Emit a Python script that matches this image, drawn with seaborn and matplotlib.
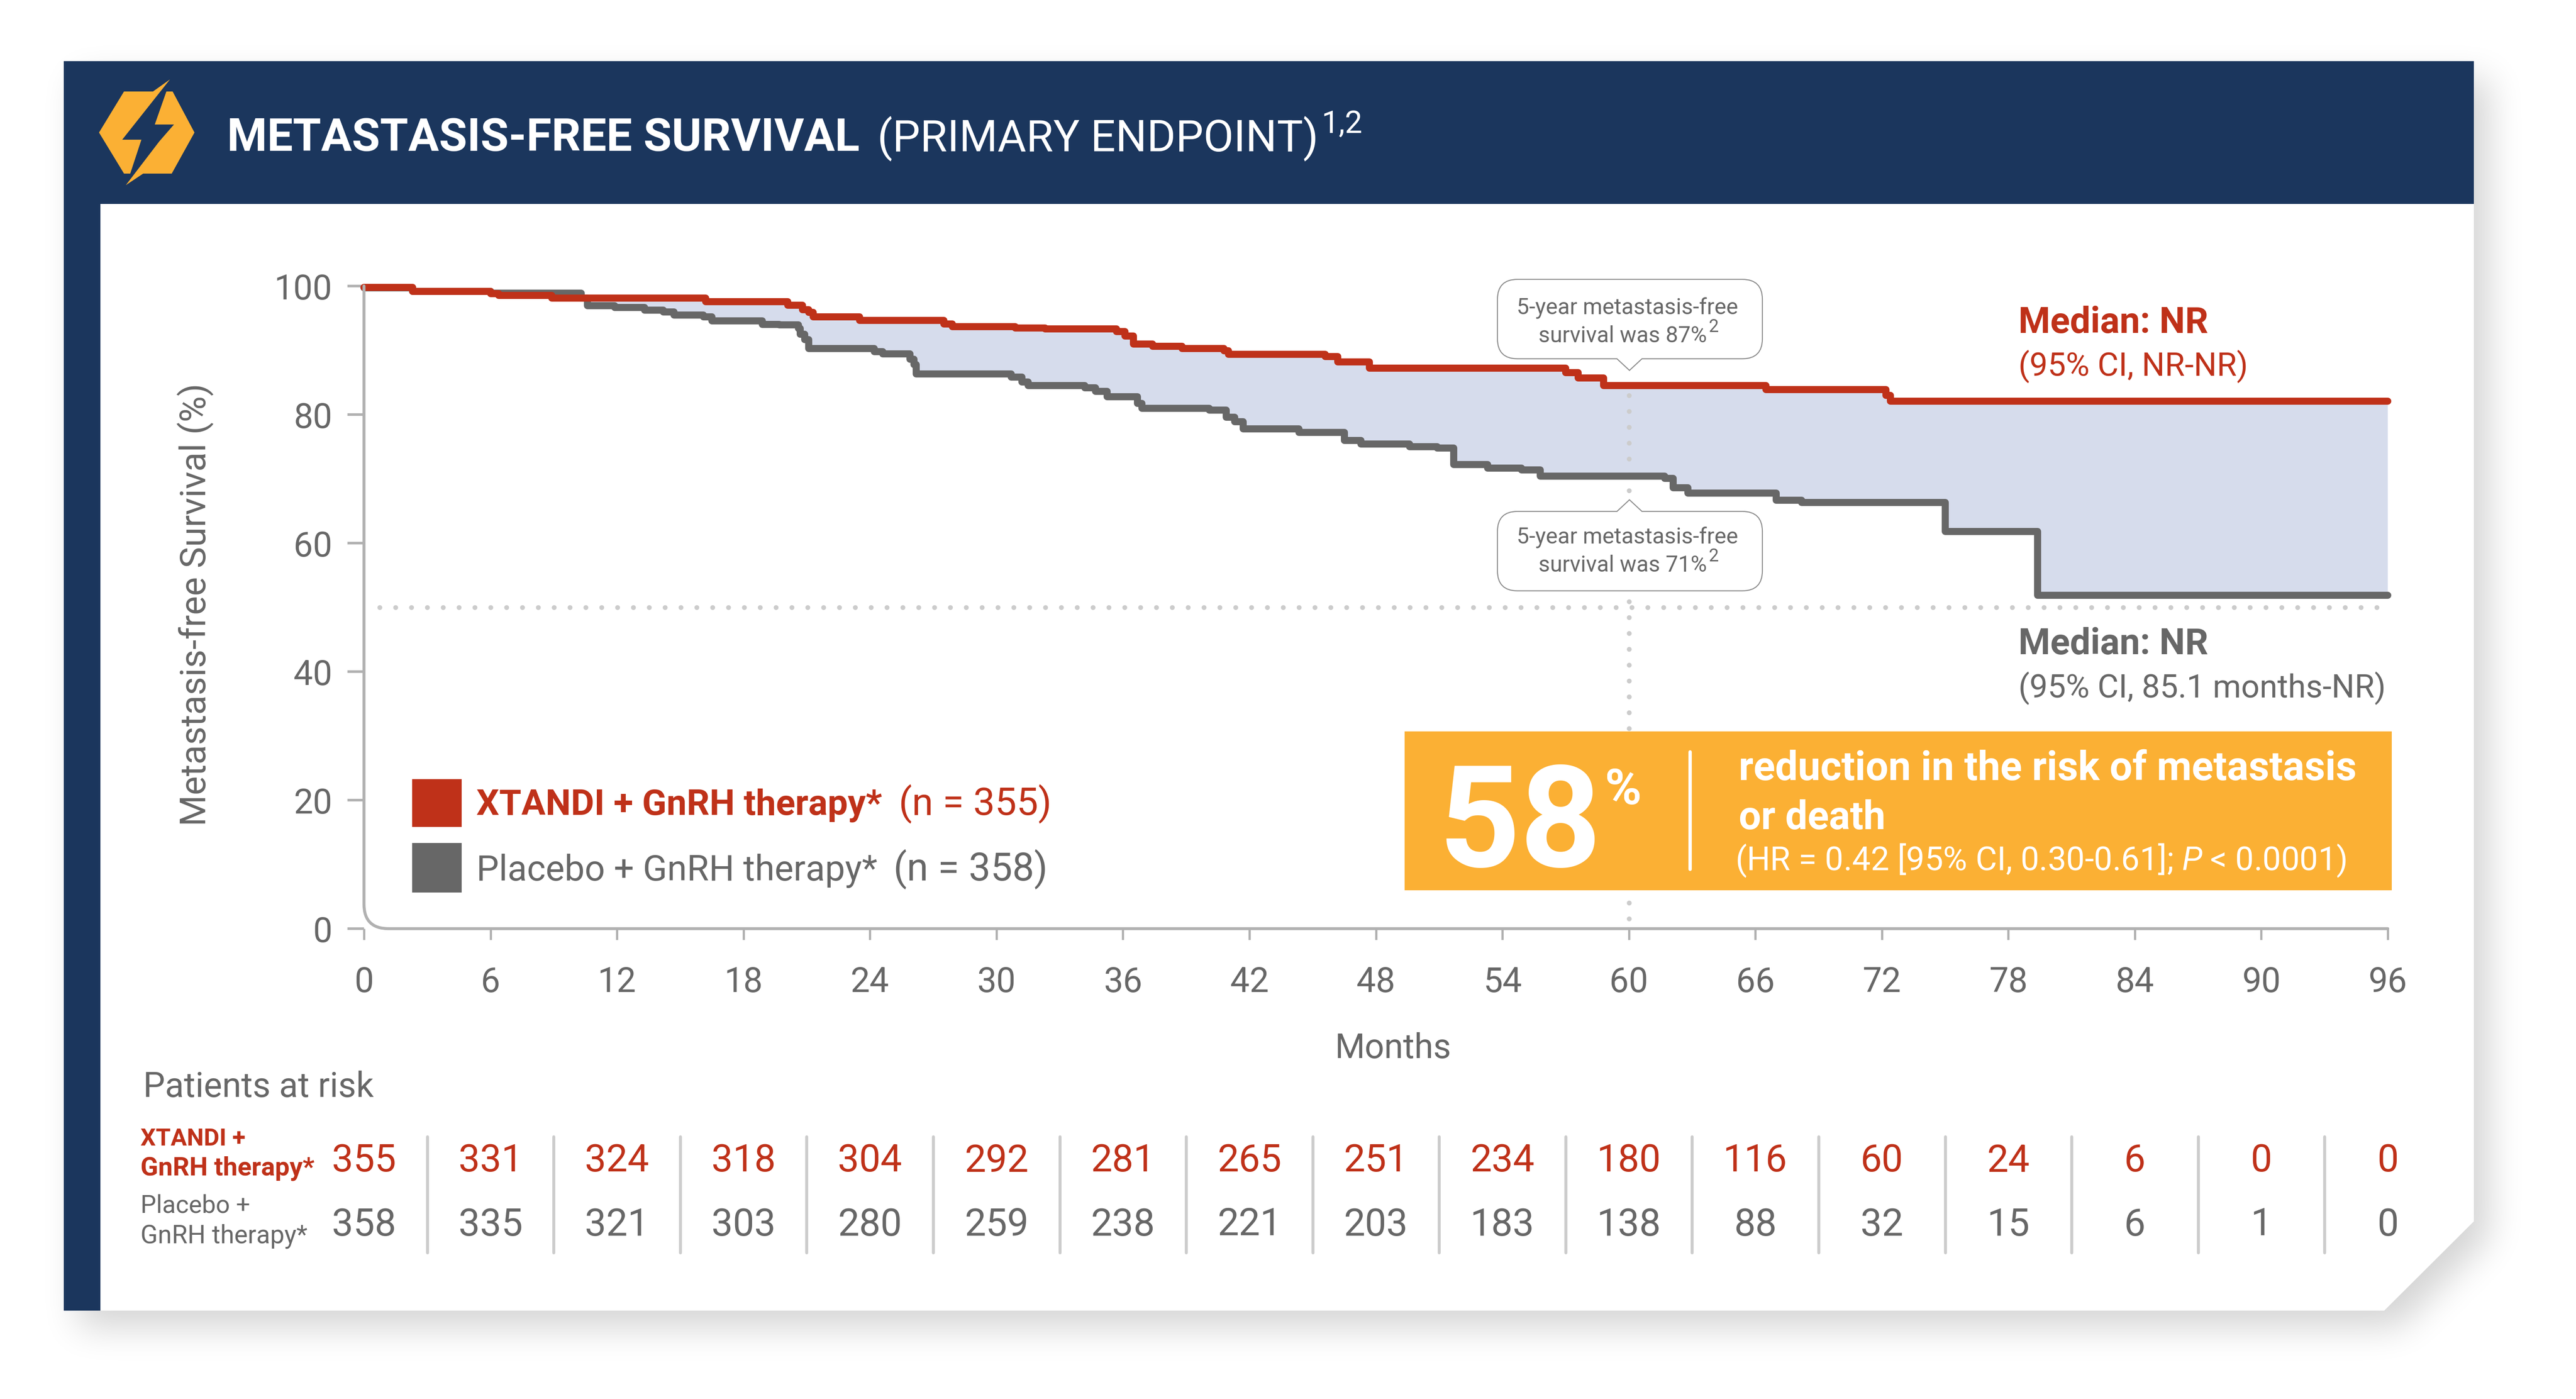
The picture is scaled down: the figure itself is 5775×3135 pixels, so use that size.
import numpy as np
import pandas as pd
import matplotlib
matplotlib.use('Agg')
import matplotlib.pyplot as plt
import seaborn as sns
from matplotlib.patches import Polygon, Rectangle, PathPatch
from matplotlib.path import Path
from matplotlib.transforms import blended_transform_factory

# survival curves: value[i] holds from months[i] up to months[i + 1]
xtandi_months = [0, 2.3, 6.0, 6.4, 8.9, 16.2, 20.1, 20.8, 21.1, 21.3, 23.5, 27.5, 27.9, 30.9, 32.3, 35.7,
                 36.1, 36.5, 37.4, 38.8, 40.8, 41.0, 45.6, 46.2, 47.7, 57.0, 57.6, 58.8, 66.5, 72.2, 72.4, 96]
xtandi_surv = [99.8, 99.15, 98.8, 98.55, 98.1, 97.56, 97.03, 96.35, 95.9, 95.2, 94.66, 94.1, 93.7, 93.5, 93.3, 92.9,
               92.2, 91.0, 90.6, 90.3, 89.9, 89.4, 89.0, 88.2, 87.2, 86.5, 85.7, 84.5, 83.9, 83.0, 82.06, 82.06]
placebo_months = [0, 2.3, 6.0, 10.3, 10.6, 11.9, 13.3, 14.2, 14.7, 16.1, 16.5, 18.9, 19.7, 20.6, 20.7, 20.9, 21.1,
                  24.2, 24.6, 25.9, 26.1, 26.2, 30.7, 31.2, 31.5, 34.2, 34.7, 35.25, 36.7, 36.9, 40.1, 40.9, 41.3,
                  41.7, 44.35, 46.5, 47.3, 49.6, 50.9, 51.7, 53.3, 54.9, 55.8, 61.7, 62.1, 62.8, 67.0, 68.2, 75.0,
                  79.4, 96]
placebo_surv = [99.7, 99.2, 98.9, 98.1, 96.96, 96.7, 96.25, 96.0, 95.5, 95.2, 94.6, 94.05, 93.95, 93.4, 92.5, 91.65,
                90.3, 89.8, 89.45, 88.6, 87.75, 86.35, 85.8, 85.1, 84.5, 84.15, 83.6, 82.8, 81.75, 81.0, 80.7, 79.6,
                78.9, 77.8, 77.25, 76.0, 75.4, 75.0, 74.8, 72.2, 71.7, 71.4, 70.4, 70.1, 68.6, 67.8, 66.7, 66.3,
                61.8, 51.9, 51.9]

x_ticks = list(range(0, 97, 6))
y_ticks = [0, 20, 40, 60, 80, 100]
risk_xtandi = [355, 331, 324, 318, 304, 292, 281, 265, 251, 234, 180, 116, 60, 24, 6, 0, 0]
risk_placebo = [358, 335, 321, 303, 280, 259, 238, 221, 203, 183, 138, 88, 32, 15, 6, 1, 0]
median_line = 50
five_years = 60

RED = '#bf3119'
GREY = '#676767'
NAVY = '#1b365d'
ORANGE = '#fbb034'
AXIS = '#b1b1b1'
DOTS = '#cccccc'
FILL = '#d6dcec'
W, H = 5775, 3135

sns.set_theme(style='white')
plt.rcParams['font.family'] = ['Roboto', 'Liberation Sans', 'DejaVu Sans']
plt.rcParams['mathtext.fontset'] = 'custom'
plt.rcParams['mathtext.rm'] = 'Roboto'
plt.rcParams['mathtext.it'] = 'Roboto:italic'


def soft_shadow():
    # blurred copy of the card outline, at 1/5 resolution
    yy, xx = np.mgrid[0:H // 5, 0:W // 5] * 5
    xx, yy = xx - 30, yy - 35
    mask = (xx > 143) & (xx < 5546) & (yy > 137) & (yy < 2937) & ((xx - 5345) / 201 + (yy - 2737) / 200 < 1)
    mask = mask.astype(float)
    box = np.ones(15) / 15
    for _ in range(3):
        mask = np.apply_along_axis(lambda r: np.convolve(r, box, mode='same'), 0, mask)
        mask = np.apply_along_axis(lambda r: np.convolve(r, box, mode='same'), 1, mask)
    rgba = np.zeros(mask.shape + (4,))
    rgba[..., 3] = mask * 0.17
    return rgba


def bubble(ax, x0, y0, x1, y1, tip_y, r=45):
    # rounded callout box, pointer at the middle of the top or bottom edge
    cx = 3653
    verts = [(x0 + r, y0)]
    codes = [Path.MOVETO]
    if tip_y < y0:
        verts += [(cx - 28, y0), (cx, tip_y), (cx + 28, y0)]
        codes += [Path.LINETO] * 3
    verts += [(x1 - r, y0), (x1, y0), (x1, y0 + r), (x1, y1 - r), (x1, y1), (x1 - r, y1)]
    codes += [Path.LINETO, Path.CURVE3, Path.CURVE3, Path.LINETO, Path.CURVE3, Path.CURVE3]
    if tip_y > y1:
        verts += [(cx + 28, y1), (cx, tip_y), (cx - 28, y1)]
        codes += [Path.LINETO] * 3
    verts += [(x0 + r, y1), (x0, y1), (x0, y1 - r), (x0, y0 + r), (x0, y0), (x0 + r, y0)]
    codes += [Path.LINETO, Path.CURVE3, Path.CURVE3, Path.LINETO, Path.CURVE3, Path.CURVE3]
    ax.add_patch(PathPatch(Path(verts, codes), fc='white', ec='#8c8c8c', lw=0.55))


def fit_text(ax, x, y, s, length, **kwargs):
    # no condensed face is installed, so scale each string to the length it has in the reference
    t = ax.text(x, y, s, fontsize=20, **kwargs)
    box = t.get_window_extent(ax.figure.canvas.get_renderer())
    t.set_fontsize(20 * length / max(box.width, box.height))
    return t


def main():
    fig = plt.figure(figsize=(W / 300, H / 300), dpi=300, facecolor='white')

    # card background, pixel coordinates
    bg = fig.add_axes([0, 0, 1, 1], zorder=0)
    bg.imshow(soft_shadow(), extent=(0, W, H, 0), aspect='auto', interpolation='bilinear')
    card = [(143, 137), (5546, 137), (5546, 2737), (5345, 2937), (143, 2937)]
    bg.add_patch(Polygon(card, fc='white', ec='none'))
    bg.add_patch(Rectangle((143, 137), 5403, 320, fc=NAVY, ec='none'))
    bg.add_patch(Rectangle((143, 137), 82, 2800, fc=NAVY, ec='none'))
    bg.add_patch(Polygon([(278, 205), (343, 205), (381, 178), (274, 313), (317, 313), (292, 389), (278, 389), (222, 297)],
                         fc=ORANGE, ec='none'))
    bg.add_patch(Polygon([(373, 205), (387, 205), (436, 297), (385, 389), (321, 389), (282, 415), (357, 317), (390, 279), (347, 279)],
                         fc=ORANGE, ec='none'))
    bg.set_xlim(0, W)
    bg.set_ylim(H, 0)
    bg.axis('off')

    # chart area
    left, right, top, bottom = 816, 5353, 641, 2081
    ax = fig.add_axes([left / W, 1 - bottom / H, (right - left) / W, (bottom - top) / H], zorder=1)
    ax.patch.set_alpha(0)

    xtandi = pd.DataFrame({'month': xtandi_months, 'survival': xtandi_surv})
    placebo = pd.DataFrame({'month': placebo_months, 'survival': placebo_surv})

    months = sorted(set(xtandi_months) | set(placebo_months))
    upper = xtandi.set_index('month')['survival'].reindex(months).ffill()
    lower = placebo.set_index('month')['survival'].reindex(months).ffill()
    ax.fill_between(months, lower, upper, step='post', color=FILL, lw=0, zorder=1)

    ax.plot([0.75, 95.7], [median_line, median_line], color=DOTS, lw=2.6, ls=(0, (0.01, 3.27)),
            dash_capstyle='round', zorder=1.5)
    ax.plot([five_years, five_years], [83, 0], color=DOTS, lw=2.6, ls=(0, (0.01, 3.27)),
            dash_capstyle='round', zorder=1.5, clip_on=False)

    for df, colour, z in [(placebo, GREY, 2), (xtandi, RED, 3)]:
        sns.lineplot(data=df, x='month', y='survival', ax=ax, color=colour, lw=3.8, estimator=None, sort=False,
                     drawstyle='steps-post', solid_capstyle='round', solid_joinstyle='round', clip_on=False, zorder=z)

    ax.set_xlim(0, 96)
    ax.set_ylim(0, 100)
    ax.set_xticks(x_ticks)
    ax.set_yticks(y_ticks)
    for side in ax.spines:
        ax.spines[side].set_visible(False)
    ax.tick_params(axis='x', bottom=True, color=AXIS, length=6, width=1.2, labelsize=18.5, labelcolor=GREY, pad=14)
    ax.tick_params(axis='y', left=True, color=AXIS, length=9, width=1.4, labelsize=18.5, labelcolor=GREY, pad=8)
    ax.set_xlabel('')
    ax.set_ylabel('')

    # everything on top of the chart, pixel coordinates again
    fg = fig.add_axes([0, 0, 1, 1], zorder=2)
    fg.patch.set_alpha(0)
    fg.set_xlim(0, W)
    fg.set_ylim(H, 0)
    fg.axis('off')

    r = 55
    frame = Path([(left, top), (left, bottom - r), (left, bottom), (left + r, bottom), (right, bottom)],
                 [Path.MOVETO, Path.LINETO, Path.CURVE3, Path.CURVE3, Path.LINETO])
    fg.add_patch(PathPatch(frame, fc='none', ec=AXIS, lw=1.6, capstyle='round'))

    fit_text(fg, 3123, 2350, 'Months', 261, color=GREY, ha='center', va='center')
    fit_text(fg, 438, 1355, 'Metastasis-free Survival (%)', 991, color=GREY, ha='center', va='center', rotation=90)

    # header
    fit_text(fg, 509, 338, 'METASTASIS-FREE SURVIVAL', 1419, color='white', fontweight='bold')
    fit_text(fg, 1967, 338, '(PRIMARY ENDPOINT)', 989, color='white')
    fit_text(fg, 2962, 298, '1,2', 92, color='white')

    # callouts
    bubble(fg, 3357, 626, 3951, 804, 830)
    bubble(fg, 3357, 1146, 3951, 1324, 1120)
    for base, pct in [(704, '87%'), (1218, '71%')]:
        fit_text(fg, 3648, base, '5-year metastasis-free', 497, color=GREY, ha='center')
        fit_text(fg, 3449, base + 63, f'survival was {pct}', 378, color=GREY)
        fg.text(3830, base + 40, '2', color=GREY, fontsize=9.5)

    # medians
    fit_text(fg, 4525, 746, 'Median: NR', 426, color=RED, fontweight='bold')
    fit_text(fg, 4525, 841, '(95% CI, NR-NR)', 515, color=RED)
    fit_text(fg, 4525, 1466, 'Median: NR', 426, color=GREY, fontweight='bold')
    fit_text(fg, 4525, 1562, '(95% CI, 85.1 months-NR)', 824, color=GREY)

    # orange box
    fg.add_patch(Rectangle((3149, 1639), 2213, 356, fc=ORANGE, ec='none'))
    fit_text(fg, 3225, 1942, '58', 365, color='white', fontweight='bold')
    fit_text(fg, 3598, 1802, '%', 106, color='white', fontweight='bold')
    fg.plot([3789, 3789], [1685, 1948], color='white', lw=1.8, solid_capstyle='round')
    fit_text(fg, 3898, 1748, 'reduction in the risk of metastasis', 1386, color='white', fontweight='bold')
    fit_text(fg, 3898, 1858, 'or death', 329, color='white', fontweight='bold')
    fit_text(fg, 3890, 1950, r'(HR = 0.42 [95% CI, 0.30-0.61]; $\mathit{P}$ < 0.0001)', 1371, color='white')

    # legend
    fg.add_patch(Rectangle((924, 1746), 111, 107, fc=RED, ec='none'))
    fg.add_patch(Rectangle((924, 1889), 111, 111, fc=GREY, ec='none'))
    fit_text(fg, 1068, 1826, 'XTANDI + GnRH therapy*', 910, color=RED, fontweight='bold')
    fit_text(fg, 2015, 1826, '(n = 355)', 343, color=RED)
    fit_text(fg, 1068, 1973, 'Placebo + GnRH therapy*', 899, color=GREY)
    fit_text(fg, 2003, 1973, '(n = 358)', 346, color=GREY)

    # patients at risk
    fit_text(fg, 321, 2458, 'Patients at risk', 516, color=GREY)
    fit_text(fg, 315, 2567, 'XTANDI +', 236, color=RED, fontweight='bold')
    fit_text(fg, 315, 2634, 'GnRH therapy*', 390, color=RED, fontweight='bold')
    fit_text(fg, 315, 2717, 'Placebo +', 246, color=GREY)
    fit_text(fg, 315, 2785, 'GnRH therapy*', 375, color=GREY)

    table = blended_transform_factory(ax.transData, fg.transData)
    for m, a, b in zip(x_ticks, risk_xtandi, risk_placebo):
        ax.text(m, 2602, str(a), transform=table, color=RED, fontsize=20.5, ha='center', va='center')
        ax.text(m, 2745, str(b), transform=table, color=GREY, fontsize=20.5, ha='center', va='center')
        if m < x_ticks[-1]:
            ax.plot([m + 3, m + 3], [2547, 2807], transform=table, color=DOTS, lw=1.6,
                    solid_capstyle='round', clip_on=False)
    ax.set_xlim(0, 96)
    ax.set_ylim(0, 100)

    fig.savefig('out.png', dpi=300, facecolor='white')
    plt.close(fig)


if __name__ == "__main__":
    main()
